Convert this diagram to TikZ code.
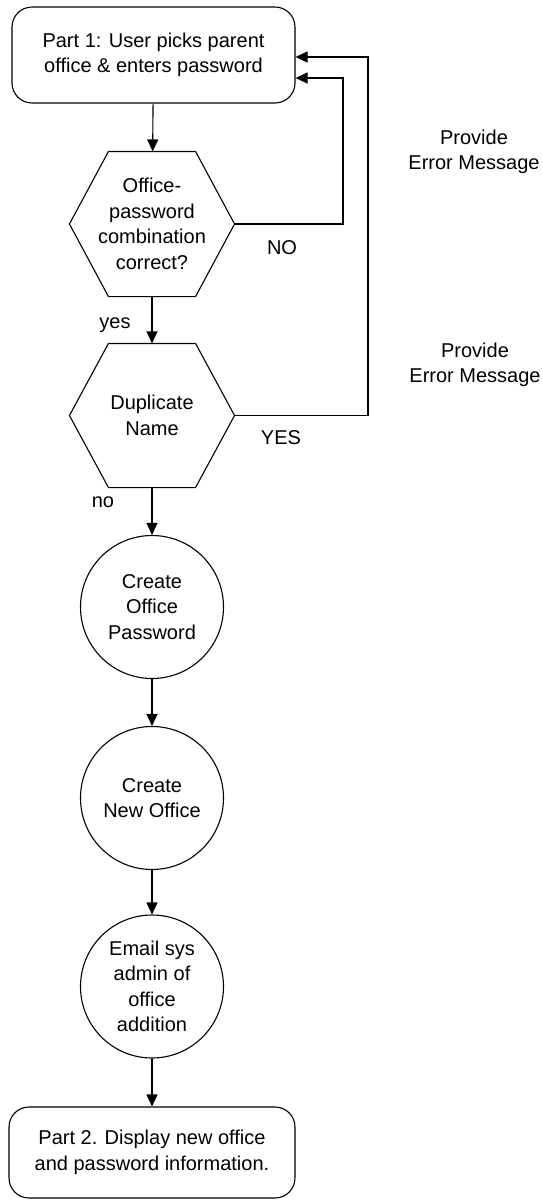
\documentclass[tikz,border=0pt]{standalone}
\usepackage{fontspec}
\setmainfont{Liberation Sans}
\usetikzlibrary{arrows.meta}
\begin{document}
\begin{tikzpicture}[x=1pt,y=-1pt,
  font=\fontsize{20}{25.5}\selectfont,
  line width=1.1pt,
  term/.style={draw, rounded corners=20pt, align=center, inner sep=0pt},
  circ/.style={draw, circle, minimum size=143pt, inner sep=0pt, align=center},
  hexbox/.style={minimum width=164pt, minimum height=144pt, inner sep=0pt, align=center},
  hexline/.style={line join=miter},
  arr/.style={-{Triangle[length=12pt,width=11pt]}},
  lbl/.style={inner sep=0pt, align=center}]
\useasboundingbox (0,0) rectangle (543,1200);

\node[term, minimum width=283pt, minimum height=96pt] (top) at (153.5,55)
  {Part 1: User picks parent\\office \& enters password};
\node[hexbox] (h1) at (152,224) {Office-\\password\\combination\\correct?};
\node[hexbox, minimum height=143pt] (h2) at (152,415.5) {Duplicate\\Name};
\node[circ] (c1) at (152,607) {Create\\Office\\Password};
\node[circ] (c2) at (152,798) {Create\\New Office};
\node[circ] (c3) at (152,986.5) {Email sys\\admin of\\office\\addition};
\node[term, minimum width=286pt, minimum height=91pt] (bot) at (152,1152.5)
  {Part 2. Display new office\\and password information.};

\foreach \h in {h1,h2}{
  \draw[hexline] (\h.west) -- ([xshift=39pt]\h.north west) -- ([xshift=-39pt]\h.north east)
    -- (\h.east) -- ([xshift=-39pt]\h.south east) -- ([xshift=39pt]\h.south west) -- cycle;
}

\node[lbl] (lno) at (282,248) {NO};
\node[lbl] (lyesu) at (281,438) {YES};
\node[lbl] (lyes) at (115,325) {yes};
\node[lbl] (lnol) at (103,502) {no};
\node[lbl] (err1) at (474,152) {Provide\\Error Message};
\node[lbl] (err2) at (475,365) {Provide\\Error Message};

\coordinate (k1) at (343,78);
\coordinate (k2) at (368,57);

\draw[arr] (top) -- (h1);
\draw[arr] (h1) -- (h2);
\draw[arr] (h2) -- (c1);
\draw[arr] (c1) -- (c2);
\draw[arr] (c2) -- (c3);
\draw[arr] (c3) -- (bot);
\draw[arr] (h1.east) -| (k1) -- (k1 -| top.east);
\draw[arr] (h2.east) -| (k2) -- (k2 -| top.east);
\end{tikzpicture}
\end{document}
